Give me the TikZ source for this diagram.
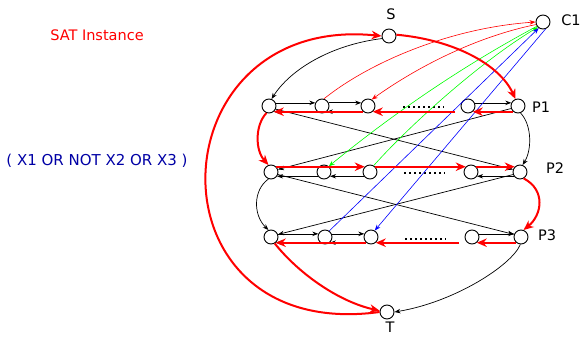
\documentclass[tikz,border=0pt]{standalone}
\usepackage{fontspec}
\setmainfont{DejaVu Sans}
\usepackage{xcolor}
\usetikzlibrary{arrows.meta, positioning}

\definecolor{clauseblue}{RGB}{0,0,165}

\begin{document}
\begin{tikzpicture}[x=1pt, y=-1pt,
  vertex/.style={circle, draw, line width=0.9pt, minimum size=14pt, inner sep=0pt},
  lbl/.style={font=\fontsize{14.5}{17}\selectfont},
  thinarrow/.style={-{Stealth[length=6pt, width=4.5pt]}, line width=0.7pt},
  patharrow/.style={-{Stealth[length=10pt, width=8.5pt]}, red, line width=2pt},
  clausearrow/.style={-{Stealth[length=6pt, width=4.5pt]}, line width=0.6pt},
  dotrow/.style={line width=2pt, dash pattern=on 2pt off 3pt}]
  \useasboundingbox (0,0) rectangle (582,337);

  % Texts
  \node[lbl, text=red] (title) at (97,35) {SAT Instance};
  \node[text=clauseblue, font=\fontsize{15}{17}\selectfont] (clause) at (97,161) {( X1 OR NOT X2 OR X3 )};

  % Source, sink and clause
  \node[vertex] (S) at (389,36) {};
  \node[lbl] (Slbl) at (391,14) {S};
  \node[vertex] (T) at (387,312) {};
  \node[lbl] (Tlbl) at (390,327.5) {T};
  \node[vertex] (C1) at (543,22) {};
  \node[lbl] (C1lbl) at (571,20) {C1};

  % Row 1
  \node[vertex] (a1) at (269,106) {};
  \node[vertex] (b1) at (322,106) {};
  \node[vertex] (c1) at (368,106) {};
  \node[vertex] (d1) at (468,106) {};
  \node[vertex] (p1) at (518,106) {};
  \node[lbl] (P1lbl) at (541,107) {P1};

  % Row 2
  \node[vertex] (a2) at (271,172) {};
  \node[vertex] (b2) at (324,172) {};
  \node[vertex] (c2) at (370,172) {};
  \node[vertex] (d2) at (471,172) {};
  \node[vertex] (p2) at (520,172) {};
  \node[lbl] (P2lbl) at (555,168) {P2};

  % Row 3
  \node[vertex] (a3) at (271,237) {};
  \node[vertex] (b3) at (325,237) {};
  \node[vertex] (c3) at (371,237) {};
  \node[vertex] (d3) at (472,237) {};
  \node[vertex] (p3) at (521,237) {};
  \node[lbl] (P3lbl) at (547,235) {P3};

  % Omitted vertices
  \draw[dotrow] (403,107.5) -- (444,107.5);
  \draw[dotrow] (404,173.5) -- (445,173.5);
  \draw[dotrow] (405,239) -- (446,239);

  % Black edges inside the rows
  \draw[thinarrow] (a1.25) -- (b1.155);
  \draw[thinarrow, line width=1.1pt] (b1.25) -- (c1.155);
  \draw[thinarrow] (d1.25) -- (p1.155);
  \draw[thinarrow] (c1.230) -- (b1.310);
  \draw[thinarrow] (b1.230) -- (a1.310);
  \draw[thinarrow] (c2.215) -- (b2.325);
  \draw[thinarrow] (b2.215) -- (a2.325);
  \draw[thinarrow] (p2.215) -- (d2.325);
  \draw[thinarrow] (a3.25) -- (b3.155);
  \draw[thinarrow] (b3.25) -- (c3.155);
  \draw[thinarrow] (d3.25) -- (p3.155);
  \draw[thinarrow] (c3.230) -- (b3.310);
  \draw[thinarrow] (b3.230) -- (a3.310);

  % Black edges between rows
  \draw[thinarrow] (S.200) .. controls (330,45) and (290,70) .. (a1.70);
  \draw[thinarrow] (p1.290) .. controls (532,125) and (532,150) .. (p2.70);
  \draw[thinarrow] (a2.250) .. controls (253,190) and (253,215) .. (a3.110);
  \draw[thinarrow] (p3.265) .. controls (512,265) and (455,302) .. (T.east);
  \draw[thinarrow] (a1.335) -- (p2.160);
  \draw[thinarrow] (p1.200) -- (a2.20);
  \draw[thinarrow] (a2.340) -- (p3.160);
  \draw[thinarrow] (p2.200) -- (a3.20);

  % Clause edges
  \draw[clausearrow, red] (b1.75) .. controls (370,62) and (450,28) .. (C1.west);
  \draw[clausearrow, red] (C1.200) .. controls (470,38) and (410,72) .. (c1.60);
  \draw[clausearrow, green] (c2.60) .. controls (410,125) and (480,62) .. (C1.225);
  \draw[clausearrow, green] (C1.215) .. controls (470,62) and (400,108) .. (b2.50);
  \draw[clausearrow, blue] (b3.55) -- (C1.235);
  \draw[clausearrow, blue] (C1.290) -- (c3.60);

  % Red path
  \draw[patharrow] (S.10) .. controls (455,40) and (500,65) .. (p1.110);
  \draw[patharrow] (p1.230) -- (d1.310);
  \draw[patharrow, shorten <=8pt] (d1.230) -- (c1.310);
  \draw[patharrow] (c1.230) -- (a1.310);
  \draw[patharrow] (a1.250) .. controls (255,125) and (255,150) .. (a2.110);
  \draw[patharrow] (a2.45) -- (c2.135);
  \draw[patharrow] (c2.45) -- (d2.135);
  \draw[patharrow] (d2.45) -- (p2.135);
  \draw[patharrow] (p2.300) .. controls (546,190) and (542,215) .. (p3.70);
  \draw[patharrow] (p3.230) -- (d3.310);
  \draw[patharrow, shorten <=8pt] (d3.230) -- (c3.310);
  \draw[patharrow] (c3.230) -- (a3.310);
  \draw[patharrow] (a3.300) .. controls (300,275) and (340,302) .. (T.170);
  \draw[patharrow] (T.west) .. controls (143,344) and (153,13) .. (S.west);
\end{tikzpicture}
\end{document}
